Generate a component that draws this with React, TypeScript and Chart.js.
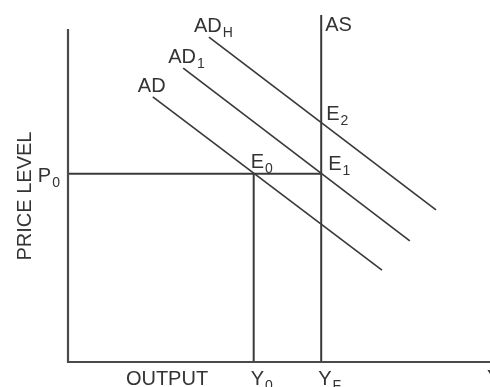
import React, { useEffect, useRef } from "react";
import { Chart, registerables } from "chart.js";

Chart.register(...registerables);

// Aggregate demand curves: names, start and end points (output, price level)
const adMain = ["AD", "AD", "AD"];
const adSub = ["", "1", "H"];
const adStartX = [20.1, 27.3, 33.4];
const adStartY = [75.3, 83.5, 92.3];
const adEndX = [74.4, 81.0, 87.2];
const adEndY = [26.1, 34.4, 43.2];

// Output levels and price levels
const outputY0 = 44;
const outputYF = 60;
const priceP0 = 53.5;
const priceE2 = 67.9;
const asTop = 98.6;
const axisTopY = 94.6;
const axisRightX = 100;

// Equilibrium points
const eqMain = ["E", "E", "E"];
const eqSub = ["0", "1", "2"];
const eqX = [outputY0, outputYF, outputYF];
const eqY = [priceP0, priceP0, priceE2];

const FONT = "Liberation Sans, Arial, Helvetica, sans-serif";
const INK = "#333333";

function drawLabel(
  ctx: CanvasRenderingContext2D,
  main: string,
  sub: string,
  x: number,
  y: number,
  align: "left" | "right" = "left"
) {
  ctx.font = `20px ${FONT}`;
  const w1 = ctx.measureText(main).width;
  ctx.font = `14px ${FONT}`;
  const w2 = sub ? ctx.measureText(sub).width + 1 : 0;
  const left = align === "left" ? x : x - w1 - w2;
  ctx.textAlign = "left";
  ctx.textBaseline = "alphabetic";
  ctx.fillStyle = INK;
  ctx.font = `20px ${FONT}`;
  ctx.fillText(main, left, y);
  if (sub) {
    ctx.font = `14px ${FONT}`;
    ctx.fillText(sub, left + w1 + 1, y + 5);
  }
}

const labelPlugin = {
  id: "econLabels",
  afterDatasetsDraw(chart: any) {
    const ctx = chart.ctx as CanvasRenderingContext2D;
    const xs = chart.scales.x;
    const ys = chart.scales.y;
    ctx.save();
    // AD labels at start of each curve
    for (let i = 0; i < adMain.length; i++) {
      const px = xs.getPixelForValue(adStartX[i]);
      const py = ys.getPixelForValue(adStartY[i]);
      drawLabel(ctx, adMain[i], adSub[i], px - 15, py - 5);
    }
    // Equilibrium labels
    const offs = [
      [-3, -6],
      [7, -4],
      [5, -3],
    ];
    for (let i = 0; i < eqMain.length; i++) {
      const px = xs.getPixelForValue(eqX[i]);
      const py = ys.getPixelForValue(eqY[i]);
      drawLabel(ctx, eqMain[i], eqSub[i], px + offs[i][0], py + offs[i][1]);
    }
    // AS label
    {
      const px = xs.getPixelForValue(outputYF);
      const py = ys.getPixelForValue(asTop);
      drawLabel(ctx, "AS", "", px + 4, py + 16);
    }
    // P0 label
    {
      const px = xs.getPixelForValue(0);
      const py = ys.getPixelForValue(priceP0);
      drawLabel(ctx, "P", "0", px - 8, py + 8, "right");
    }
    // Y labels under axis
    const by = ys.getPixelForValue(0) + 23;
    drawLabel(ctx, "Y", "0", xs.getPixelForValue(outputY0) - 3, by);
    drawLabel(ctx, "Y", "F", xs.getPixelForValue(outputYF) - 3, by);
    drawLabel(ctx, "Y", "", xs.getPixelForValue(axisRightX) - 3, by - 1);
    // Axis titles
    ctx.fillStyle = INK;
    ctx.font = `20px ${FONT}`;
    ctx.textAlign = "center";
    ctx.fillText("OUTPUT", 167, by);
    ctx.translate(31, 196);
    ctx.rotate(-Math.PI / 2);
    ctx.fillText("PRICE LEVEL", 0, 0);
    ctx.restore();
  },
};

export default function App() {
  const ref = useRef<HTMLCanvasElement>(null);
  useEffect(() => {
    if (!ref.current) return;
    const seg = (pts: { x: number; y: number }[], w = 1.6, color = "#3a3a3a") => ({
      data: pts,
      showLine: true,
      borderColor: color,
      borderWidth: w,
      pointRadius: 0,
      fill: false,
      clip: false as any,
    });
    const datasets: any[] = [
      seg([{ x: 0, y: axisTopY }, { x: 0, y: 0 }, { x: axisRightX, y: 0 }], 2.2, "#4a4a4a"),
      seg([{ x: outputYF, y: asTop }, { x: outputYF, y: 0 }], 2),
      seg([{ x: 0, y: priceP0 }, { x: outputYF, y: priceP0 }], 2),
      seg([{ x: outputY0, y: priceP0 }, { x: outputY0, y: 0 }], 2),
    ];
    for (let i = 0; i < adMain.length; i++) {
      datasets.push(seg([{ x: adStartX[i], y: adStartY[i] }, { x: adEndX[i], y: adEndY[i] }], 1.7));
    }
    const chart = new Chart(ref.current, {
      type: "scatter",
      data: { datasets },
      options: {
        animation: false,
        responsive: false,
        devicePixelRatio: 1,
        layout: { padding: { left: 68, right: 0, top: 10, bottom: 25 } },
        plugins: { legend: { display: false }, tooltip: { enabled: false } },
        scales: {
          x: { type: "linear", min: 0, max: 100, display: false },
          y: { type: "linear", min: 0, max: 100, display: false },
        },
      },
      plugins: [labelPlugin],
    });
    return () => chart.destroy();
  }, []);
  return (
    <div style={{ position: "fixed", left: 0, top: 0, width: 490, height: 387, background: "#fff" }}>
      <canvas ref={ref} width={490} height={387} style={{ width: 490, height: 387 }} />
    </div>
  );
}
